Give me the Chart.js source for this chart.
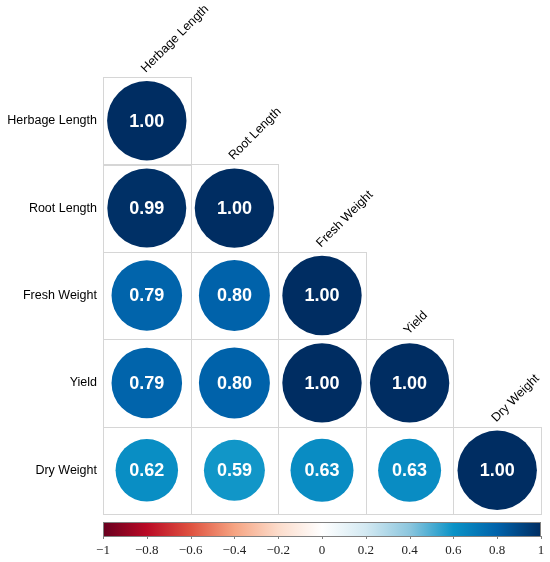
<!DOCTYPE html>
<html>
<head>
<meta charset="utf-8">
<script src="https://cdn.jsdelivr.net/npm/chart.js@4.4.1/dist/chart.umd.min.js"></script>
<style>
  html, body { margin: 0; padding: 0; background: #fff; }
  canvas { display: block; }
</style>
</head>
<body>
<canvas id="myChart" width="550" height="562"></canvas>
<script>
// Variables (rows / columns of the matrix)
const variables = ['Herbage Length', 'Root Length', 'Fresh Weight', 'Yield', 'Dry Weight'];

// Lower triangle of the correlation matrix, one row per variable
const herbageLengthRow = [1.00];
const rootLengthRow = [0.99, 1.00];
const freshWeightRow = [0.79, 0.80, 1.00];
const yieldRow = [0.79, 0.80, 1.00, 1.00];
const dryWeightRow = [0.62, 0.59, 0.63, 0.63, 1.00];

// Colour bar ticks
const colorbarTicks = [-1, -0.8, -0.6, -0.4, -0.2, 0, 0.2, 0.4, 0.6, 0.8, 1];

// Red-blue palette stops
const paletteStops = [
    [-1, '#67001F'], [-0.8, '#BA0A25'], [-0.6, '#DF5240'], [-0.4, '#F6A482'],
    [-0.2, '#FCDCCB'], [0, '#FFFFFF'], [0.2, '#D3E9F2'], [0.4, '#8CC6DE'],
    [0.6, '#0A93C7'], [0.8, '#0062AA'], [1, '#002D62']
];

const hexToRgb = (h) => [1, 3, 5].map(i => parseInt(h.slice(i, i + 2), 16));

const colorFor = (v) => {
    for (let i = 0; i < paletteStops.length - 1; i++) {
        const [v0, c0] = paletteStops[i];
        const [v1, c1] = paletteStops[i + 1];
        if (v >= v0 && v <= v1) {
            const t = (v - v0) / (v1 - v0);
            const a = hexToRgb(c0), b = hexToRgb(c1);
            const rgb = a.map((x, k) => Math.round(x + (b[k] - x) * t));
            return `rgb(${rgb.join(',')})`;
        }
    }
    return paletteStops[paletteStops.length - 1][1];
};

const matrixRows = [herbageLengthRow, rootLengthRow, freshWeightRow, yieldRow, dryWeightRow];
const points = [];
matrixRows.forEach((row, r) => {
    row.forEach((v, c) => {
        points.push({ x: variables[c], y: variables[r], v: v });
    });
});

const cellSize = (chart) => {
    const s = chart.scales.x;
    if (!s) return 0;
    const w = Math.abs(s.getPixelForValue(1) - s.getPixelForValue(0));
    return isFinite(w) ? w : 0;
};

// Grid cells of the lower triangle
const gridPlugin = {
    id: 'triGrid',
    beforeDatasetsDraw(chart) {
        const { ctx, scales: { x, y } } = chart;
        const w = cellSize(chart);
        ctx.save();
        ctx.strokeStyle = '#D6D6D6';
        ctx.lineWidth = 1;
        matrixRows.forEach((row, r) => {
            row.forEach((v, c) => {
                const cx = x.getPixelForValue(c);
                const cy = y.getPixelForValue(r);
                const l = Math.round(cx - w / 2), rt = Math.round(cx + w / 2);
                const t = Math.round(cy - w / 2), b = Math.round(cy + w / 2);
                ctx.strokeRect(l + 0.5, t + 0.5, rt - l, b - t);
            });
        });
        ctx.restore();
    }
};

// Numbers in the circles, top labels and the colour bar
const annotatePlugin = {
    id: 'annotate',
    afterDatasetsDraw(chart) {
        const { ctx, scales: { x, y, cb } } = chart;
        const meta = chart.getDatasetMeta(0);
        const w = cellSize(chart);
        ctx.save();
        ctx.fillStyle = '#FFFFFF';
        ctx.font = 'bold 18px "Liberation Sans", Arial, sans-serif';
        ctx.textAlign = 'center';
        ctx.textBaseline = 'middle';
        meta.data.forEach((el, i) => {
            ctx.fillText(points[i].v.toFixed(2), el.x, el.y + 1);
        });

        // rotated column labels above the diagonal
        ctx.fillStyle = '#000000';
        ctx.font = '12.5px "Liberation Sans", Arial, sans-serif';
        ctx.textAlign = 'left';
        ctx.textBaseline = 'alphabetic';
        variables.forEach((name, i) => {
            const cx = x.getPixelForValue(i);
            const top = y.getPixelForValue(i) - w / 2;
            ctx.save();
            ctx.translate(cx - 1, top - 4);
            ctx.rotate(-Math.PI / 4);
            ctx.fillText(name, 0, 0);
            ctx.restore();
        });

        // colour bar
        const barTop = chart.chartArea.bottom + 8;
        const barH = 14;
        const grad = ctx.createLinearGradient(cb.left, 0, cb.right, 0);
        paletteStops.forEach(([v, c]) => grad.addColorStop((v + 1) / 2, c));
        ctx.fillStyle = grad;
        ctx.fillRect(cb.left, barTop, cb.right - cb.left, barH);
        ctx.strokeStyle = '#808080';
        ctx.lineWidth = 1;
        ctx.strokeRect(cb.left + 0.5, barTop + 0.5, cb.right - cb.left - 1, barH);
        ctx.beginPath();
        colorbarTicks.forEach(t => {
            const px = Math.round(cb.getPixelForValue(t)) + 0.5;
            ctx.moveTo(px, barTop + barH);
            ctx.lineTo(px, barTop + barH + 3);
        });
        ctx.stroke();
        ctx.restore();
    }
};

new Chart(document.getElementById('myChart').getContext('2d'), {
    type: 'scatter',
    data: {
        datasets: [{
            data: points,
            xAxisID: 'x',
            yAxisID: 'y',
            showLine: false,
            clip: false,
            pointBackgroundColor: (c) => c.raw ? colorFor(c.raw.v) : '#000',
            pointBorderWidth: 0,
            pointRadius: (c) => {
                if (!c.raw) return 0;
                return cellSize(c.chart) * 0.453 * Math.sqrt(Math.abs(c.raw.v));
            }
        }]
    },
    options: {
        responsive: false,
        animation: false,
        events: [],
        layout: { autoPadding: false, padding: { top: 77, right: 9, left: 0, bottom: 0 } },
        plugins: {
            legend: { display: false },
            tooltip: { enabled: false }
        },
        scales: {
            x: {
                type: 'category',
                labels: variables,
                offset: true,
                display: false
            },
            y: {
                type: 'category',
                labels: variables,
                offset: true,
                grid: { display: false, drawTicks: false },
                border: { display: false },
                ticks: {
                    color: '#000000',
                    padding: 6,
                    font: { family: '"Liberation Sans", Arial, sans-serif', size: 12.5 }
                },
                afterFit: (s) => { s.width = 103; }
            },
            cb: {
                type: 'linear',
                position: 'bottom',
                min: -1,
                max: 1,
                grid: { display: false, drawTicks: false },
                border: { display: false },
                afterBuildTicks: (s) => { s.ticks = colorbarTicks.map(v => ({ value: v })); },
                ticks: {
                    autoSkip: false,
                    maxRotation: 0,
                    padding: 29,
                    color: '#222222',
                    font: { family: '"Liberation Serif", "Times New Roman", serif', size: 13 },
                    callback: (v) => v < 0 ? '\u2212' + Math.abs(v) : String(v)
                },
                afterFit: (s) => { s.height = 48; s.paddingLeft = 0; s.paddingRight = 0; }
            }
        }
    },
    plugins: [gridPlugin, annotatePlugin]
});
</script>
</body>
</html>
